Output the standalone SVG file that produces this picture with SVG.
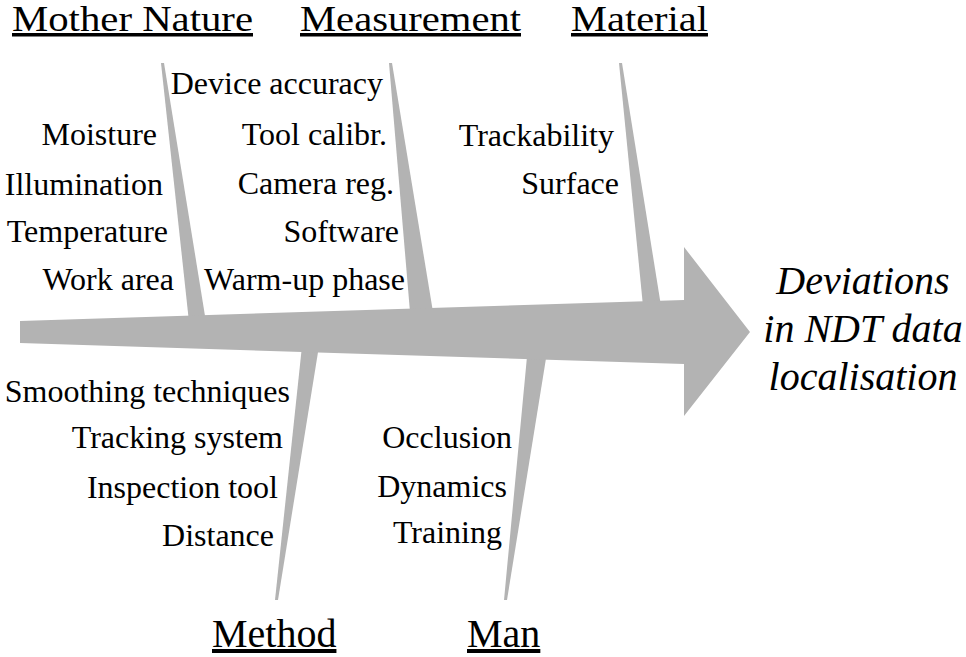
<svg xmlns="http://www.w3.org/2000/svg" width="966" height="657" viewBox="0 0 966 657">
<style>
.bone{fill:#b3b3b3;stroke:none}
text{font-family:"Liberation Serif","Times New Roman",serif;fill:#000}
.lbl{font-size:32px;text-anchor:end}
.head{font-size:35px;text-decoration:underline}
.eff{font-size:40px;font-style:italic;text-anchor:middle}
</style>
<rect width="966" height="657" fill="#fff"/>
<g id="connectors">
<polygon class="bone" points="161,63 164,63 206,322 189,322"/>
<polygon class="bone" points="389,63 392,63 433,312 410,312"/>
<polygon class="bone" points="619,63 622,63 661,306 643,306"/>
<polygon class="bone" points="275,600 278,600 319,346 302,346"/>
<polygon class="bone" points="504,600 507,600 548,346 528,346"/>
<polygon id="spine" class="bone" points="20,321 684,300 684,247 750,332 684,416 684,364 20,343"/>
</g>
<g id="mother-nature">
<text class="head" x="12" y="31" textLength="241" lengthAdjust="spacingAndGlyphs">Mother Nature</text>
<text class="lbl" x="157" y="145">Moisture</text>
<text class="lbl" x="163" y="195">Illumination</text>
<text class="lbl" x="168" y="242">Temperature</text>
<text class="lbl" x="174" y="290">Work area</text>
</g>
<g id="measurement">
<text class="head" x="300" y="31" textLength="221" lengthAdjust="spacingAndGlyphs">Measurement</text>
<text class="lbl" x="383" y="94">Device accuracy</text>
<text class="lbl" x="387" y="145">Tool calibr.</text>
<text class="lbl" x="394" y="194">Camera reg.</text>
<text class="lbl" x="399" y="242">Software</text>
<text class="lbl" x="405" y="290">Warm-up phase</text>
</g>
<g id="material">
<text class="head" x="571" y="31" textLength="137" lengthAdjust="spacingAndGlyphs">Material</text>
<text class="lbl" x="614" y="146">Trackability</text>
<text class="lbl" x="619" y="194">Surface</text>
</g>
<g id="method">
<text class="head" x="212" y="647" style="font-size:40px">Method</text>
<text class="lbl" x="290" y="402">Smoothing techniques</text>
<text class="lbl" x="283" y="448">Tracking system</text>
<text class="lbl" x="278" y="498">Inspection tool</text>
<text class="lbl" x="274" y="546">Distance</text>
</g>
<g id="man">
<text class="head" x="467" y="647" style="font-size:40px">Man</text>
<text class="lbl" x="512" y="448">Occlusion</text>
<text class="lbl" x="507" y="497">Dynamics</text>
<text class="lbl" x="502" y="543">Training</text>
</g>
<g id="effect">
<text class="eff" x="863" y="294">Deviations</text>
<text class="eff" x="863" y="342">in NDT data</text>
<text class="eff" x="863" y="390">localisation</text>
</g>
</svg>
